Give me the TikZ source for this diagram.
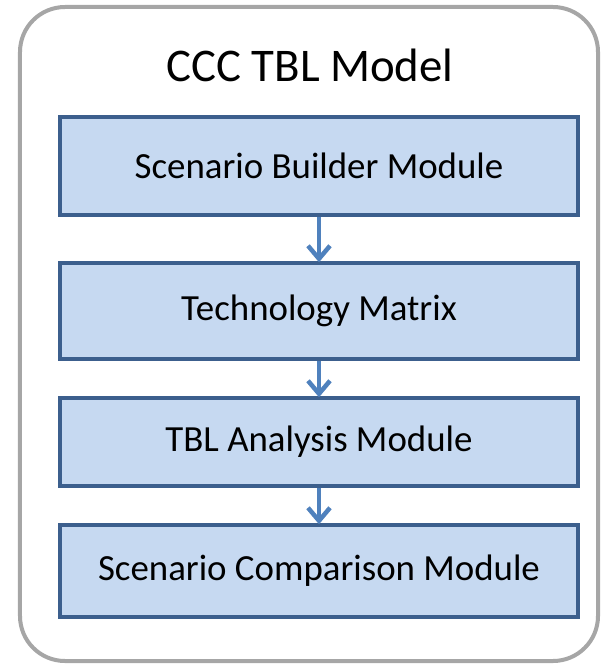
\documentclass[tikz,border=0pt]{standalone}
\usepackage{fontspec}
\setmainfont{Carlito}
\usetikzlibrary{arrows.meta}
\definecolor{boxfill}{HTML}{C6D9F1}
\definecolor{boxline}{HTML}{3C5F8D}
\definecolor{arrowcol}{HTML}{4F81BD}
\definecolor{outerline}{HTML}{A6A6A6}
\tikzset{
  modbox/.style={draw=boxline, fill=boxfill, line width=3.5bp, minimum width=518bp, inner sep=0pt, font=\fontsize{37}{44}\selectfont, text=black},
  flow/.style={draw=arrowcol, line width=4.5bp, -{Straight Barb[length=13bp,width=22bp,line width=4.5bp]}, shorten >=-1bp}
}
\begin{document}
\begin{tikzpicture}[x=1bp,y=-1bp]
\useasboundingbox (0,0) rectangle (616,665);
\node[draw=outerline, line width=4bp, rounded corners=45bp, fill=white, minimum width=578bp, minimum height=654bp, inner sep=0pt] (outer) at (309,334) {};
\node[font=\fontsize{47}{56}\selectfont, text=black] (title) at (310,65) {CCC TBL Model};
\node[modbox, minimum height=98bp] (b1) at (319,166) {Scenario Builder Module};
\node[modbox, minimum height=96bp] (b2) at (319,311) {Technology Matrix};
\node[modbox, minimum height=88bp] (b3) at (319,442) {TBL Analysis Module};
\node[modbox, minimum height=92bp] (b4) at (319,571) {Scenario Comparison Module};
\draw[flow] (b1.south) -- (b2.north);
\draw[flow] (b2.south) -- (b3.north);
\draw[flow] (b3.south) -- (b4.north);
\end{tikzpicture}
\end{document}
